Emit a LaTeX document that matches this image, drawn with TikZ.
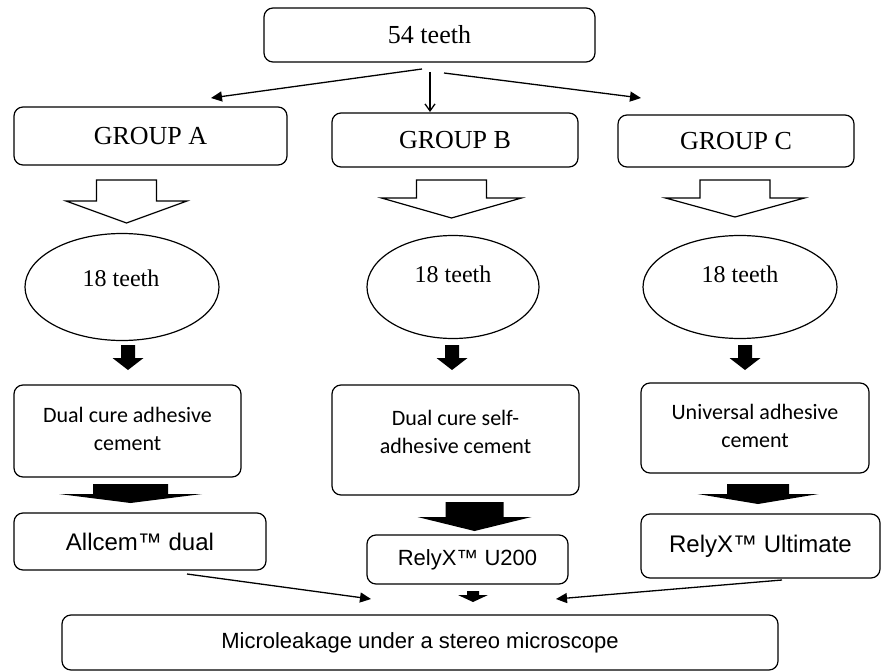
\documentclass[tikz,border=0pt]{standalone}
\usepackage{fontspec}
\setmainfont{Liberation Serif}
\newfontfamily\carlfont{Carlito}
\newfontfamily\lsansfont{Liberation Sans}
\usetikzlibrary{arrows.meta,shapes.geometric}
% block arrow: x-centre, y top, y head base, y tip, half shaft, half head, style
\newcommand\blkarr[7]{%
  \path[#7] (#1-#5,#2) -- (#1+#5,#2) -- (#1+#5,#3) -- (#1+#6,#3) -- (#1,#4)
    -- (#1-#6,#3) -- (#1-#5,#3) -- cycle;}
\begin{document}
\begin{tikzpicture}[x=1pt,y=-1pt,
  box/.style={draw,rounded corners=9pt,line width=1.2pt,inner sep=0pt},
  ell/.style={draw,ellipse,line width=1.2pt,inner sep=0pt},
  serif/.style={font=\fontsize{26}{30}\selectfont},
  serifs/.style={font=\fontsize{24}{28}\selectfont},
  ctext/.style={font=\carlfont\fontsize{22}{28}\selectfont,align=center},
  stext/.style={font=\lsansfont\fontsize{24}{28}\selectfont},
  stexts/.style={font=\lsansfont\fontsize{22}{26}\selectfont},
  linearrow/.style={line width=1.3pt,-{Triangle[length=11pt,width=10pt]}},
  thinarrow/.style={line width=1.3pt,-{Straight Barb[length=7pt,width=10pt]}},
  hollow/.style={draw,line width=1.2pt,fill=white,line join=miter},
  solidarrow/.style={fill=black}]
\useasboundingbox (0,0) rectangle (882,671);

% top
\node[box,serif,minimum width=331pt,minimum height=54pt] (top) at (429.5,35) {54 teeth};

% groups
\node[box,serif,minimum width=273pt,minimum height=58pt] (gA) at (150.5,136) {GROUP A};
\node[box,serif,minimum width=246pt,minimum height=54pt] (gB) at (455,140) {GROUP B};
\node[box,serif,minimum width=236pt,minimum height=52pt] (gC) at (736,141) {GROUP C};

\coordinate (sL) at (422,69);  \coordinate (eL) at (211,98);
\coordinate (sM) at (430,72);  \coordinate (eM) at (430,112);
\coordinate (sR) at (444,73);  \coordinate (eR) at (641,98);
\draw[linearrow] (sL) -- (eL);
\draw[thinarrow] (sM) -- (eM);
\draw[linearrow] (sR) -- (eR);

% hollow arrows
\blkarr{126.5}{180}{201}{223}{30}{60.5}{hollow}
\blkarr{451.5}{180}{198}{218}{35}{70}{hollow}
\blkarr{735}{180}{198}{217}{35}{69.5}{hollow}

% ellipses
\node[ell,minimum width=194pt,minimum height=107pt] (eA) at (122,287) {};
\node[ell,minimum width=172pt,minimum height=103pt] (eB) at (453,287) {};
\node[ell,minimum width=194pt,minimum height=103pt] (eC) at (740,287) {};
\node[serifs] (tA) at (121,278) {18 teeth};
\node[serifs] (tB) at (453,274) {18 teeth};
\node[serifs] (tC) at (740,274) {18 teeth};

% small black arrows
\blkarr{128}{345}{358}{370}{7}{15.5}{solidarrow}
\blkarr{452}{345}{358}{370}{7}{15.5}{solidarrow}
\blkarr{745}{345}{358}{370}{7}{15.5}{solidarrow}

% cement boxes
\node[box,minimum width=227pt,minimum height=92pt] (cA) at (127.5,431) {};
\node[ctext] (cAt) at (127.5,429) {Dual cure adhesive\\cement};
\node[box,minimum width=247pt,minimum height=110pt] (cB) at (455.5,440) {};
\node[ctext] (cBt) at (455.5,432) {Dual cure self-\\adhesive cement};
\node[box,minimum width=228pt,minimum height=90pt] (cC) at (755,428) {};
\node[ctext] (cCt) at (755,426) {Universal adhesive\\cement};

% big black arrows
\blkarr{130.5}{484}{494}{503}{37.5}{71.5}{solidarrow}
\blkarr{474.5}{502}{517}{531}{29}{57}{solidarrow}
\blkarr{758}{484}{494}{504}{31}{60.5}{solidarrow}

% product boxes
\node[box,stext,minimum width=252pt,minimum height=57pt] (pA) at (140,541.5) {Allcem™ dual};
\node[box,stexts,minimum width=201pt,minimum height=49pt] (pB) at (467.5,559.5) {RelyX™ U200};
\node[box,stext,minimum width=239pt,minimum height=64pt] (pC) at (760.5,546) {RelyX™ Ultimate};

% bottom box
\node[box,stexts,minimum width=716pt,minimum height=55pt] (bot) at (420,642.5) {Microleakage under a stereo microscope};

\coordinate (lS) at (187,574); \coordinate (lE) at (371,599);
\coordinate (rS) at (782,580); \coordinate (rE) at (556,599);
\draw[linearrow] (lS) -- (lE);
\draw[linearrow] (rS) -- (rE);
\blkarr{473}{591}{595}{602}{6}{15}{solidarrow}
\end{tikzpicture}
\end{document}
